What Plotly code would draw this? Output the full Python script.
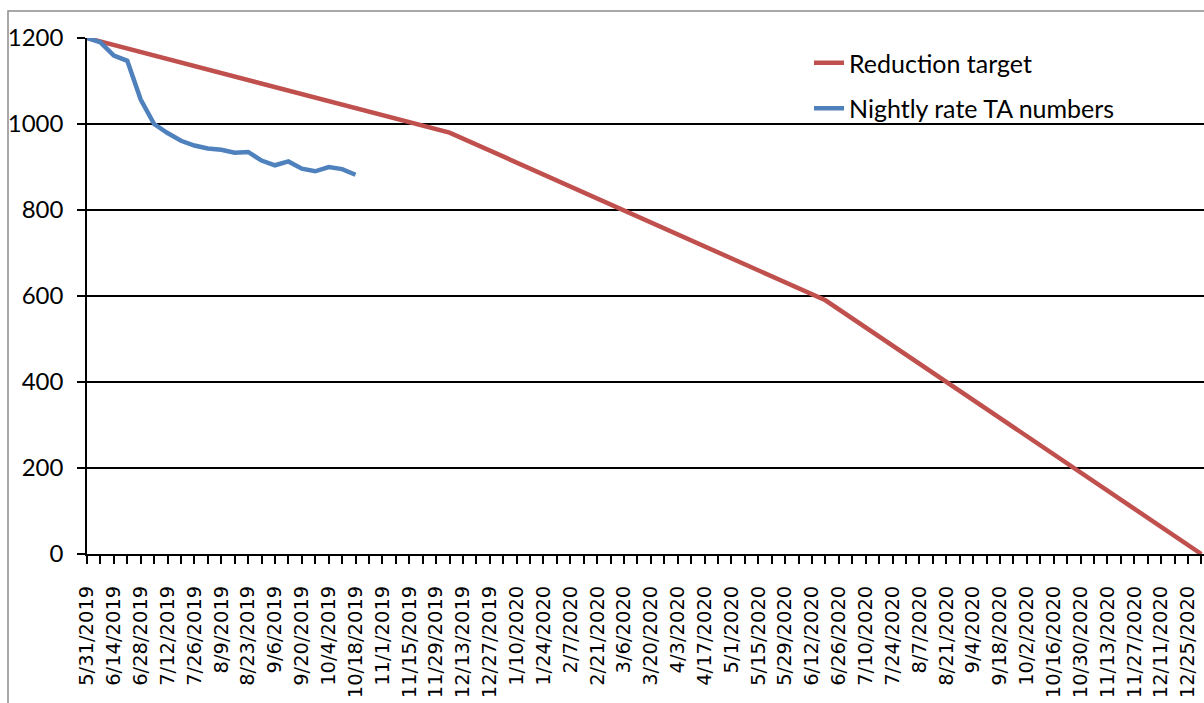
import plotly.graph_objects as go

# Reduction target: vertices of the planned path
target_dates = ["2019-05-31", "2019-12-06", "2020-06-19", "2021-01-01"]
target_values = [1200, 980, 590, 0]

# Weekly nightly-rate TA counts
actual_dates = [
    "2019-05-31", "2019-06-07", "2019-06-14", "2019-06-21", "2019-06-28",
    "2019-07-05", "2019-07-12", "2019-07-19", "2019-07-26", "2019-08-02",
    "2019-08-09", "2019-08-16", "2019-08-23", "2019-08-30", "2019-09-06",
    "2019-09-13", "2019-09-20", "2019-09-27", "2019-10-04", "2019-10-11",
    "2019-10-18",
]
actual_values = [
    1200, 1190, 1159, 1147, 1057, 1000, 979, 961, 950, 943,
    940, 933, 935, 915, 904, 913, 896, 890, 900, 895, 882,
]

y_ticks = [0, 200, 400, 600, 800, 1000, 1200]

RED = "#C0504D"
BLUE = "#4F81BD"

fig = go.Figure()
fig.add_trace(go.Scatter(
    x=target_dates, y=target_values, mode="lines", name="Reduction target",
    line=dict(color=RED, width=4.5), legendgroup="a",
))
fig.add_trace(go.Scatter(
    x=actual_dates, y=actual_values, mode="lines", name="Nightly rate TA numbers",
    line=dict(color=BLUE, width=4.5), legendgroup="b",
))

W, H = 1204, 703
L, T, B = 87, 38, 149
plot_w = W - L
plot_h = H - T - B

fig.update_layout(
    width=W, height=H,
    margin=dict(l=L, r=0, t=T, b=B, pad=0, autoexpand=False),
    paper_bgcolor="white", plot_bgcolor="white",
    showlegend=True,
    legend=dict(
        x=(809 - L) / plot_w, xanchor="left",
        y=1 - (40 - T) / plot_h, yanchor="top",
        font=dict(family="Lato", size=25, color="black"),
        tracegroupgap=10, traceorder="grouped",
        bgcolor="rgba(0,0,0,0)",
    ),
    xaxis=dict(
        type="date", automargin=False,
        range=["2019-05-31", "2021-01-02 09:00"],
        tick0="2019-05-31", dtick=14 * 86400000,
        tickformat="%-m/%-d/%Y", tickangle=-90,
        ticks="outside", ticklen=8, tickwidth=2, tickcolor="black",
        minor=dict(dtick=7 * 86400000, tick0="2019-05-31", ticks="outside",
                   ticklen=8, tickwidth=2, tickcolor="black", showgrid=False),
        showline=True, linecolor="black", linewidth=2,
        showgrid=False, zeroline=False,
        tickfont=dict(family="DejaVu Sans", size=19.5, color="black"),
        ticklabelstandoff=14,
    ),
    yaxis=dict(
        automargin=False,
        range=[0, 1200], tickvals=y_ticks,
        ticks="outside", ticklen=8, tickwidth=1.5, tickcolor="black",
        showline=True, linecolor="black", linewidth=1.5,
        showgrid=True, gridcolor="black", gridwidth=1.8,
        zeroline=False,
        tickfont=dict(family="Lato", size=24, color="black"),
        ticklabelstandoff=9,
    ),
    shapes=[dict(
        type="rect", xref="paper", yref="paper",
        x0=(8 - L) / plot_w, x1=1.05,
        y0=-0.5, y1=1 + (T - 11) / plot_h,
        line=dict(color="#8c8c8c", width=1.5), fillcolor="rgba(0,0,0,0)",
        layer="above",
    )],
)

fig.write_html("out.html")
